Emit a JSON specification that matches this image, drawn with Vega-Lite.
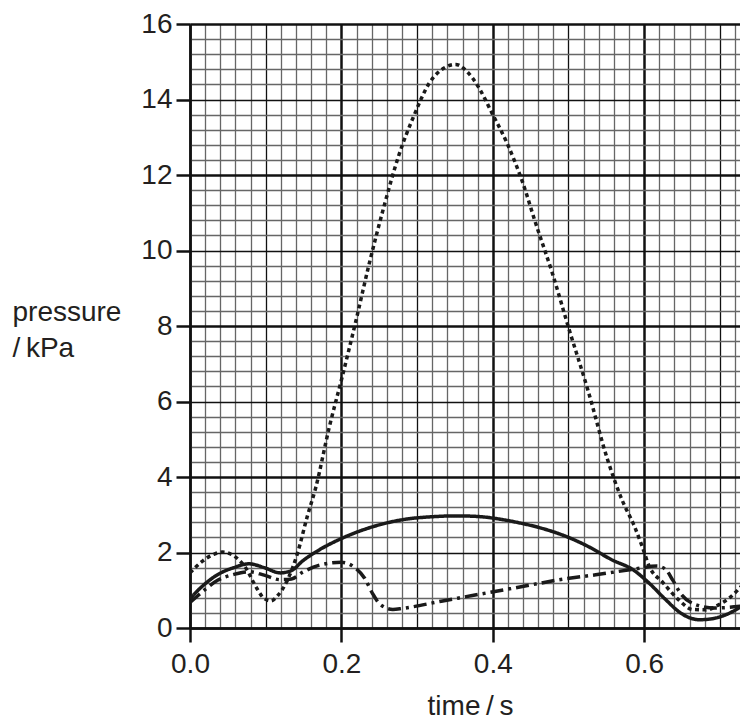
{
  "$schema": "https://vega.github.io/schema/vega-lite/v6.json",
  "width": 550,
  "height": 604,
  "autosize": {"type": "none"},
  "padding": {"left": 190, "top": 24, "right": 0, "bottom": 94},
  "background": "white",
  "config": {"view": {"stroke": null}, "font": "Liberation Sans"},
  "data": {"values": [
    {"series": "solid", "t": 0.0, "p": 0.78},
    {"series": "solid", "t": 0.017, "p": 1.12},
    {"series": "solid", "t": 0.037, "p": 1.42},
    {"series": "solid", "t": 0.058, "p": 1.6},
    {"series": "solid", "t": 0.078, "p": 1.7},
    {"series": "solid", "t": 0.098, "p": 1.6},
    {"series": "solid", "t": 0.119, "p": 1.46},
    {"series": "solid", "t": 0.134, "p": 1.52},
    {"series": "solid", "t": 0.149, "p": 1.78},
    {"series": "solid", "t": 0.17, "p": 2.06},
    {"series": "solid", "t": 0.2, "p": 2.37},
    {"series": "solid", "t": 0.241, "p": 2.68},
    {"series": "solid", "t": 0.281, "p": 2.87},
    {"series": "solid", "t": 0.322, "p": 2.95},
    {"series": "solid", "t": 0.353, "p": 2.97},
    {"series": "solid", "t": 0.383, "p": 2.95},
    {"series": "solid", "t": 0.404, "p": 2.9},
    {"series": "solid", "t": 0.434, "p": 2.79},
    {"series": "solid", "t": 0.465, "p": 2.64},
    {"series": "solid", "t": 0.495, "p": 2.44},
    {"series": "solid", "t": 0.526, "p": 2.16},
    {"series": "solid", "t": 0.556, "p": 1.82},
    {"series": "solid", "t": 0.587, "p": 1.52},
    {"series": "solid", "t": 0.607, "p": 1.18},
    {"series": "solid", "t": 0.627, "p": 0.78},
    {"series": "solid", "t": 0.648, "p": 0.4},
    {"series": "solid", "t": 0.663, "p": 0.25},
    {"series": "solid", "t": 0.673, "p": 0.22},
    {"series": "solid", "t": 0.688, "p": 0.24},
    {"series": "solid", "t": 0.709, "p": 0.36},
    {"series": "solid", "t": 0.729, "p": 0.58},
    {"series": "dashdot", "t": 0.0, "p": 0.68},
    {"series": "dashdot", "t": 0.017, "p": 0.97},
    {"series": "dashdot", "t": 0.037, "p": 1.27},
    {"series": "dashdot", "t": 0.058, "p": 1.42},
    {"series": "dashdot", "t": 0.078, "p": 1.49},
    {"series": "dashdot", "t": 0.098, "p": 1.4},
    {"series": "dashdot", "t": 0.119, "p": 1.28},
    {"series": "dashdot", "t": 0.134, "p": 1.3},
    {"series": "dashdot", "t": 0.149, "p": 1.48},
    {"series": "dashdot", "t": 0.17, "p": 1.66},
    {"series": "dashdot", "t": 0.2, "p": 1.74},
    {"series": "dashdot", "t": 0.215, "p": 1.64},
    {"series": "dashdot", "t": 0.231, "p": 1.31},
    {"series": "dashdot", "t": 0.241, "p": 0.92},
    {"series": "dashdot", "t": 0.251, "p": 0.63},
    {"series": "dashdot", "t": 0.268, "p": 0.49},
    {"series": "dashdot", "t": 0.281, "p": 0.52},
    {"series": "dashdot", "t": 0.332, "p": 0.71},
    {"series": "dashdot", "t": 0.373, "p": 0.86},
    {"series": "dashdot", "t": 0.434, "p": 1.08},
    {"series": "dashdot", "t": 0.495, "p": 1.3},
    {"series": "dashdot", "t": 0.536, "p": 1.41},
    {"series": "dashdot", "t": 0.587, "p": 1.56},
    {"series": "dashdot", "t": 0.617, "p": 1.64},
    {"series": "dashdot", "t": 0.628, "p": 1.56},
    {"series": "dashdot", "t": 0.638, "p": 1.26},
    {"series": "dashdot", "t": 0.648, "p": 0.92},
    {"series": "dashdot", "t": 0.668, "p": 0.62},
    {"series": "dashdot", "t": 0.693, "p": 0.53},
    {"series": "dashdot", "t": 0.729, "p": 0.58},
    {"series": "dotted", "t": 0.0, "p": 1.46},
    {"series": "dotted", "t": 0.017, "p": 1.78},
    {"series": "dotted", "t": 0.032, "p": 1.96},
    {"series": "dotted", "t": 0.043, "p": 2.01},
    {"series": "dotted", "t": 0.058, "p": 1.91},
    {"series": "dotted", "t": 0.073, "p": 1.61},
    {"series": "dotted", "t": 0.088, "p": 1.06},
    {"series": "dotted", "t": 0.098, "p": 0.78},
    {"series": "dotted", "t": 0.107, "p": 0.72},
    {"series": "dotted", "t": 0.116, "p": 0.86},
    {"series": "dotted", "t": 0.129, "p": 1.28},
    {"series": "dotted", "t": 0.142, "p": 1.98},
    {"series": "dotted", "t": 0.155, "p": 2.96},
    {"series": "dotted", "t": 0.166, "p": 3.71},
    {"series": "dotted", "t": 0.184, "p": 5.32},
    {"series": "dotted", "t": 0.2, "p": 6.57},
    {"series": "dotted", "t": 0.219, "p": 8.12},
    {"series": "dotted", "t": 0.237, "p": 9.67},
    {"series": "dotted", "t": 0.257, "p": 11.22},
    {"series": "dotted", "t": 0.276, "p": 12.53},
    {"series": "dotted", "t": 0.295, "p": 13.53},
    {"series": "dotted", "t": 0.316, "p": 14.43},
    {"series": "dotted", "t": 0.338, "p": 14.86},
    {"series": "dotted", "t": 0.351, "p": 14.93},
    {"series": "dotted", "t": 0.365, "p": 14.76},
    {"series": "dotted", "t": 0.382, "p": 14.3},
    {"series": "dotted", "t": 0.399, "p": 13.64},
    {"series": "dotted", "t": 0.418, "p": 12.88},
    {"series": "dotted", "t": 0.439, "p": 11.83},
    {"series": "dotted", "t": 0.457, "p": 10.7},
    {"series": "dotted", "t": 0.479, "p": 9.38},
    {"series": "dotted", "t": 0.499, "p": 8.03},
    {"series": "dotted", "t": 0.526, "p": 6.28},
    {"series": "dotted", "t": 0.551, "p": 4.5},
    {"series": "dotted", "t": 0.571, "p": 3.38},
    {"series": "dotted", "t": 0.587, "p": 2.7},
    {"series": "dotted", "t": 0.597, "p": 2.18},
    {"series": "dotted", "t": 0.607, "p": 1.62},
    {"series": "dotted", "t": 0.624, "p": 1.22},
    {"series": "dotted", "t": 0.646, "p": 0.74},
    {"series": "dotted", "t": 0.664, "p": 0.49},
    {"series": "dotted", "t": 0.682, "p": 0.48},
    {"series": "dotted", "t": 0.699, "p": 0.62},
    {"series": "dotted", "t": 0.714, "p": 0.82},
    {"series": "dotted", "t": 0.729, "p": 1.12}
  ]},
  "mark": {"type": "line", "interpolate": "monotone", "clip": true, "color": "#1a1a1a", "strokeWidth": 3.5, "strokeCap": "butt"},
  "encoding": {
    "x": {
      "field": "t", "type": "quantitative",
      "scale": {"domain": [0, 0.7266], "nice": false, "zero": false},
      "axis": {
        "values": [0, 0.02, 0.04, 0.06, 0.08, 0.1, 0.12, 0.14, 0.16, 0.18, 0.2, 0.22, 0.24, 0.26, 0.28, 0.3, 0.32, 0.34, 0.36, 0.38, 0.4, 0.42, 0.44, 0.46, 0.48, 0.5, 0.52, 0.54, 0.56, 0.58, 0.6, 0.62, 0.64, 0.66, 0.68, 0.7, 0.72],
        "labelExpr": "abs(datum.value*5 - round(datum.value*5)) < 0.001 ? format(datum.value, '.1f') : ''",
        "labelFontSize": 28, "labelColor": "#231f20", "labelPadding": 8, "labelFlush": false, "labelOverlap": false,
        "tickSize": 14, "tickWidth": 2.5, "tickColor": "#111",
        "tickOpacity": {"condition": {"test": "abs(datum.value*5 - round(datum.value*5)) < 0.001", "value": 1}, "value": 0},
        "domain": true, "domainColor": "#111", "domainWidth": 2.5,
        "grid": true,
        "gridColor": {"condition": {"test": "abs(datum.value*10 - round(datum.value*10)) < 0.001", "value": "#111"}, "value": "#666666"},
        "gridWidth": {"condition": {"test": "abs(datum.value*5 - round(datum.value*5)) < 0.001", "value": 2.5}, "value": 1.3},
        "gridOpacity": 1,
        "title": "time\u2009/\u2009s", "titleFontSize": 28, "titleFontWeight": "normal", "titleColor": "#231f20",
        "titleAlign": "center", "titleBaseline": "alphabetic", "titleX": 280, "titleY": 86
      }
    },
    "y": {
      "field": "p", "type": "quantitative",
      "scale": {"domain": [0, 16], "nice": false},
      "axis": {
        "values": [0, 0.4, 0.8, 1.2, 1.6, 2, 2.4, 2.8, 3.2, 3.6, 4, 4.4, 4.8, 5.2, 5.6, 6, 6.4, 6.8, 7.2, 7.6, 8, 8.4, 8.8, 9.2, 9.6, 10, 10.4, 10.8, 11.2, 11.6, 12, 12.4, 12.8, 13.2, 13.6, 14, 14.4, 14.8, 15.2, 15.6, 16],
        "labelExpr": "abs(datum.value/2 - round(datum.value/2)) < 0.001 ? format(datum.value, 'd') : ''",
        "labelFontSize": 28, "labelColor": "#231f20", "labelPadding": 4, "labelFlush": false, "labelOverlap": false,
        "tickSize": 14, "tickWidth": 2.5, "tickColor": "#111",
        "tickOpacity": {"condition": {"test": "abs(datum.value/2 - round(datum.value/2)) < 0.001", "value": 1}, "value": 0},
        "domain": true, "domainColor": "#111", "domainWidth": 2.5,
        "grid": true,
        "gridColor": {"condition": {"test": "abs(datum.value/2 - round(datum.value/2)) < 0.001", "value": "#111"}, "value": "#666666"},
        "gridWidth": {"condition": {"test": "abs(datum.value/4 - round(datum.value/4)) < 0.001", "value": 2.5}, "value": 1.3},
        "gridOpacity": 1,
        "title": ["pressure", "/\u2009kPa"], "titleFontSize": 28, "titleFontWeight": "normal", "titleColor": "#231f20",
        "titleAngle": 0, "titleAlign": "left", "titleBaseline": "alphabetic", "titleX": -178, "titleY": 296, "titleLineHeight": 36
      }
    },
    "strokeDash": {
      "field": "series", "type": "nominal",
      "scale": {"domain": ["dotted", "solid", "dashdot"], "range": [[4, 3.5], [1, 0], [13, 5, 3, 5]]},
      "legend": null
    }
  }
}
